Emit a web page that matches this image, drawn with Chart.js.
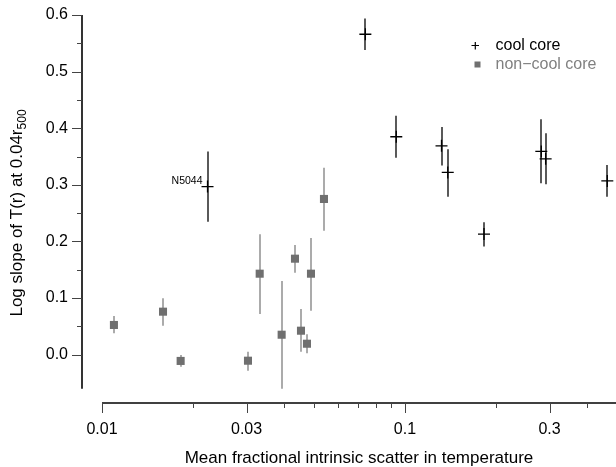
<!DOCTYPE html>
<html>
<head>
<meta charset="utf-8">
<title>Log slope vs intrinsic scatter</title>
<script src="https://cdn.jsdelivr.net/npm/chart.js@4.4.1/dist/chart.umd.min.js"></script>
<style>
  html, body { margin: 0; padding: 0; background: #ffffff; }
  #wrap { width: 616px; height: 467px; }
</style>
</head>
<body>
<div id="wrap"><canvas id="scatter-chart" width="616" height="467"></canvas></div>
<script>
// Cool core clusters: x, y and vertical error range
var ccX  = [0.0223, 0.0740, 0.0936, 0.132, 0.1384, 0.1823, 0.2818, 0.2912, 0.4653];
var ccY  = [0.297, 0.566, 0.385, 0.369, 0.322, 0.213, 0.359, 0.346, 0.307];
var ccLo = [0.235, 0.538, 0.348, 0.334, 0.279, 0.191, 0.303, 0.301, 0.279];
var ccHi = [0.359, 0.594, 0.422, 0.402, 0.363, 0.234, 0.416, 0.391, 0.335];

// Non-cool core clusters
var nccX  = [0.01095, 0.0159, 0.01818, 0.03033, 0.03315, 0.03917, 0.04335, 0.04537, 0.04748, 0.04895, 0.05403];
var nccY  = [0.0525, 0.076, -0.011, -0.0106, 0.1431, 0.0353, 0.1696, 0.0424, 0.0194, 0.1431, 0.2751];
var nccLo = [0.0378, 0.0512, -0.0212, -0.0283, 0.0719, -0.0601, 0.1449, 0.0053, 0.0025, 0.0777, 0.2191];
var nccHi = [0.0684, 0.0996, -0.0005, 0.0053, 0.2127, 0.1302, 0.1938, 0.0807, 0.036, 0.2062, 0.3304];

// Labelled cluster (index into cool core arrays)
var noteLabel = "N5044";
var noteIndex = 0;

// Axis ticks
var xTicks = [0.01, 0.03, 0.1, 0.3];
var xMinorTicks = [0.02, 0.04, 0.05, 0.06, 0.07, 0.08, 0.09, 0.2, 0.4];
var yTicks = [0.0, 0.1, 0.2, 0.3, 0.4, 0.5, 0.6];
var yMinorTicks = [0.05, 0.15, 0.25, 0.35, 0.45, 0.55];

var FONT = "'Liberation Sans', Arial, Helvetica, sans-serif";
Chart.defaults.font.family = FONT;
Chart.defaults.color = "#000000";

function toPoints(xs, ys) {
  var pts = [];
  for (var i = 0; i < xs.length; i++) {
    pts.push({ x: xs[i], y: ys[i] });
  }
  return pts;
}

// Error bars, axes with minor ticks, titles and legend
var extrasPlugin = {
  id: 'extras',
  beforeDatasetsDraw: function(chart) {
    var ctx = chart.ctx;
    var xs = chart.scales.x, ys = chart.scales.y;
    ctx.save();
    ctx.lineCap = 'butt';
    ctx.strokeStyle = '#ababab';
    ctx.lineWidth = 2;
    for (var i = 0; i < nccX.length; i++) {
      var px = Math.round(xs.getPixelForValue(nccX[i]));
      ctx.beginPath();
      ctx.moveTo(px, ys.getPixelForValue(nccLo[i]));
      ctx.lineTo(px, ys.getPixelForValue(nccHi[i]));
      ctx.stroke();
    }
    ctx.strokeStyle = '#000000';
    ctx.lineWidth = 1.3;
    for (var j = 0; j < ccX.length; j++) {
      var qx = Math.round(xs.getPixelForValue(ccX[j]));
      ctx.beginPath();
      ctx.moveTo(qx, ys.getPixelForValue(ccLo[j]));
      ctx.lineTo(qx, ys.getPixelForValue(ccHi[j]));
      ctx.stroke();
    }
    ctx.restore();
  },
  afterDraw: function(chart) {
    var ctx = chart.ctx;
    var xs = chart.scales.x, ys = chart.scales.y;
    var area = chart.chartArea;
    ctx.save();

    // y axis
    ctx.strokeStyle = '#000000';
    ctx.lineWidth = 1.6;
    ctx.beginPath();
    ctx.moveTo(area.left, ys.getPixelForValue(0.6));
    ctx.lineTo(area.left, ys.getPixelForValue(-0.06));
    ctx.stroke();
    ctx.lineWidth = 1;
    ctx.strokeStyle = '#444444';
    yTicks.forEach(function(v) {
      var py = Math.round(ys.getPixelForValue(v)) + 0.5;
      ctx.beginPath(); ctx.moveTo(area.left - 10, py); ctx.lineTo(area.left, py); ctx.stroke();
    });
    yMinorTicks.forEach(function(v) {
      var py = Math.round(ys.getPixelForValue(v)) + 0.5;
      ctx.beginPath(); ctx.moveTo(area.left - 5, py); ctx.lineTo(area.left, py); ctx.stroke();
    });

    // x axis
    ctx.strokeStyle = '#000000';
    ctx.lineWidth = 1.6;
    ctx.beginPath();
    ctx.moveTo(xs.getPixelForValue(0.01), area.bottom);
    ctx.lineTo(area.right, area.bottom);
    ctx.stroke();
    ctx.lineWidth = 1;
    ctx.strokeStyle = '#444444';
    xTicks.forEach(function(v) {
      var px = Math.round(xs.getPixelForValue(v)) + 0.5;
      ctx.beginPath(); ctx.moveTo(px, area.bottom); ctx.lineTo(px, area.bottom + 10); ctx.stroke();
    });
    xMinorTicks.forEach(function(v) {
      var px = Math.round(xs.getPixelForValue(v)) + 0.5;
      ctx.beginPath(); ctx.moveTo(px, area.bottom); ctx.lineTo(px, area.bottom + 5); ctx.stroke();
    });

    // x title, centred on the drawn axis
    ctx.fillStyle = '#000000';
    ctx.font = '17px ' + FONT;
    ctx.textAlign = 'center';
    ctx.textBaseline = 'alphabetic';
    var xMid = (xs.getPixelForValue(0.01) + area.right) / 2;
    ctx.fillText('Mean fractional intrinsic scatter in temperature', xMid, 463);

    // y title with subscript
    ctx.save();
    ctx.translate(22, 213);
    ctx.rotate(-Math.PI / 2);
    var main = 'Log slope of T(r) at 0.04r';
    var sub = '500';
    ctx.font = '17px ' + FONT;
    var wMain = ctx.measureText(main).width;
    ctx.font = '12px ' + FONT;
    var wSub = ctx.measureText(sub).width;
    var start = -(wMain + wSub) / 2;
    ctx.textAlign = 'left';
    ctx.font = '17px ' + FONT;
    ctx.fillText(main, start, 0);
    ctx.font = '12px ' + FONT;
    ctx.fillText(sub, start + wMain, 4);
    ctx.restore();

    // annotation
    ctx.font = '10.5px ' + FONT;
    ctx.textAlign = 'right';
    ctx.fillStyle = '#000000';
    ctx.fillText(noteLabel, xs.getPixelForValue(ccX[noteIndex]) - 5, ys.getPixelForValue(ccY[noteIndex]) - 2.5);

    // legend
    ctx.strokeStyle = '#000000';
    ctx.lineWidth = 1.2;
    ctx.beginPath();
    ctx.moveTo(471.5, 45.5); ctx.lineTo(479, 45.5);
    ctx.moveTo(475.3, 42); ctx.lineTo(475.3, 49.5);
    ctx.stroke();
    ctx.fillStyle = '#707070';
    ctx.fillRect(474.5, 61.5, 6, 6);
    ctx.font = '16px ' + FONT;
    ctx.textAlign = 'left';
    ctx.textBaseline = 'middle';
    ctx.fillStyle = '#000000';
    ctx.fillText('cool core', 495.5, 45.5);
    ctx.fillStyle = '#808080';
    ctx.fillText('non\u2212cool core', 495.5, 64.5);

    ctx.restore();
  }
};

var chartConfig = {
  type: 'scatter',
  data: {
    datasets: [
      {
        label: 'non\u2212cool core',
        data: toPoints(nccX, nccY),
        pointStyle: 'rect',
        pointRadius: 5.7,
        pointHoverRadius: 5.7,
        backgroundColor: '#6f6f6f',
        borderWidth: 0
      },
      {
        label: 'cool core',
        data: toPoints(ccX, ccY),
        pointStyle: 'cross',
        pointRadius: 6,
        pointHoverRadius: 6,
        borderColor: '#000000',
        borderWidth: 1.3
      }
    ]
  },
  options: {
    responsive: false,
    animation: false,
    layout: { autoPadding: false, padding: { top: 15, right: 0, bottom: 0, left: 0 } },
    plugins: {
      legend: { display: false },
      tooltip: { enabled: false }
    },
    scales: {
      x: {
        type: 'logarithmic',
        min: 0.008591,
        max: 0.4971,
        grid: { display: false, drawTicks: false },
        border: { display: false },
        ticks: {
          font: { size: 16 },
          color: '#000000',
          padding: 17,
          maxRotation: 0,
          autoSkip: false,
          callback: function(value) { return String(value); }
        },
        afterBuildTicks: function(scale) {
          scale.ticks = xTicks.map(function(v) { return { value: v }; });
        },
        afterFit: function(scale) {
          scale.height = 64;
          scale.paddingLeft = 0;
          scale.paddingRight = 0;
        }
      },
      y: {
        type: 'linear',
        min: -0.0853,
        max: 0.6,
        grid: { display: false, drawTicks: false },
        border: { display: false },
        ticks: {
          font: { size: 16 },
          color: '#000000',
          padding: 14,
          autoSkip: false,
          callback: function(value) { return value.toFixed(1); }
        },
        afterBuildTicks: function(scale) {
          scale.ticks = yTicks.map(function(v) { return { value: v }; });
        },
        afterFit: function(scale) {
          scale.width = 82;
          scale.paddingTop = 0;
          scale.paddingBottom = 0;
        }
      }
    }
  },
  plugins: [extrasPlugin]
};

// Initialize chart
var scatterChart = new Chart(document.getElementById("scatter-chart"), chartConfig);
</script>
</body>
</html>
